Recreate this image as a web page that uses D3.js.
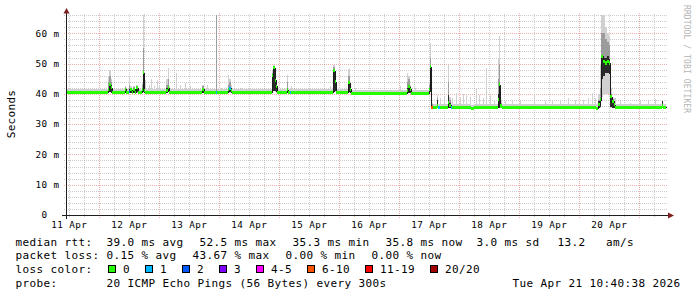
<!DOCTYPE html>
<html><head><meta charset="utf-8">
<script src="https://cdn.jsdelivr.net/npm/d3@7"></script>
<style>
html,body{margin:0;padding:0;background:#fff;}
svg{display:block;}
text{font-family:"DejaVu Sans Mono",monospace;fill:#000;}
</style></head><body>
<svg id="c" width="697" height="297"></svg>
<script>
// ---------------- data ----------------
// time = hours since the start of the 10-day window (ends Tue Apr 21 10:40:38 2026)
// columns: hour, median (ms), lost pings (of 20), smoke low, dark low, dark high, mid high, smoke high
const samples = [
[0.0,40.5,0,40.0,40.2,40.8,41.0,41.5],
[16.8,41.5,0,40.2,40.5,42.0,44.0,46.0],
[17.2,43.0,0,40.5,40.5,43.5,46.0,48.0],
[17.8,42.0,0,40.3,40.4,43.0,44.0,45.0],
[18.2,40.5,0,40.0,40.2,40.8,41.0,41.5],
[23.4,41.5,0,40.2,40.4,42.0,42.2,42.5],
[24.0,40.5,0,40.0,40.2,40.8,41.0,41.5],
[25.0,40.8,2,40.2,40.3,41.5,43.0,46.0],
[25.6,41.3,0,40.2,40.4,41.7,42.0,42.5],
[26.2,40.5,0,40.0,40.2,40.8,41.0,41.5],
[26.8,41.5,0,40.2,40.4,42.0,42.2,42.5],
[27.4,40.5,0,40.0,40.2,40.8,41.0,41.5],
[28.0,42.0,0,40.3,40.5,42.3,42.6,43.0],
[28.6,40.5,0,40.0,40.2,40.8,41.0,41.5],
[30.2,41.5,0,40.2,40.5,42.0,43.0,44.0],
[30.6,47.0,0,40.5,40.5,47.3,55.0,66.0],
[31.2,41.0,0,40.3,40.4,41.5,43.0,45.0],
[31.6,40.5,0,40.0,40.2,40.8,41.0,44.5],
[32.0,40.5,0,40.0,40.2,40.8,41.0,41.5],
[33.0,40.5,0,40.0,40.2,40.8,41.0,43.0],
[33.4,40.5,0,40.0,40.2,40.8,41.0,41.5],
[34.0,40.5,0,40.0,40.2,40.8,41.0,44.8],
[34.4,40.5,0,40.0,40.2,40.8,41.0,41.5],
[35.2,40.5,0,40.0,40.2,40.8,41.0,42.5],
[35.6,40.5,0,40.0,40.2,40.8,41.0,41.5],
[36.2,40.5,0,40.0,40.2,40.8,41.0,44.6],
[36.6,40.5,0,40.0,40.2,40.8,41.0,41.5],
[37.2,40.5,0,40.0,40.2,40.8,41.0,43.0],
[37.6,40.5,0,40.0,40.2,40.8,41.0,41.5],
[40.0,41.0,0,40.2,40.4,42.0,43.0,45.0],
[40.6,42.0,0,40.5,40.5,42.3,45.0,48.5],
[41.2,40.5,0,40.0,40.2,40.8,41.0,42.5],
[41.6,40.5,0,40.0,40.2,40.8,41.0,41.5],
[43.8,40.5,0,40.0,40.2,40.8,41.0,47.0],
[44.2,40.5,0,40.0,40.2,40.8,41.0,41.5],
[45.6,40.5,0,40.0,40.2,40.8,41.0,43.0],
[46.0,40.5,0,40.0,40.2,40.8,41.0,41.5],
[47.6,40.5,0,40.0,40.2,40.8,41.0,43.5],
[48.0,40.5,0,40.0,40.2,40.8,41.0,41.5],
[49.6,40.5,0,40.0,40.2,40.8,41.0,42.5],
[50.0,40.5,0,40.0,40.2,40.8,41.0,41.5],
[52.0,40.5,0,40.0,40.2,40.8,41.0,42.0],
[52.4,40.5,0,40.0,40.2,40.8,41.0,41.5],
[54.4,41.5,0,40.2,40.4,41.8,42.5,43.0],
[55.0,40.5,0,40.0,40.2,40.8,41.0,41.5],
[56.4,40.5,0,40.0,40.2,40.8,41.0,42.8],
[56.8,40.5,0,40.0,40.2,40.8,41.0,41.5],
[60.0,40.5,1,40.0,40.2,40.8,66.0,66.0],
[60.4,40.5,0,40.0,40.2,40.8,41.0,41.5],
[62.0,40.5,0,40.0,40.2,40.8,41.0,42.0],
[62.4,40.5,0,40.0,40.2,40.8,41.0,41.5],
[64.6,41.3,0,40.2,40.4,41.7,43.0,46.3],
[65.2,41.8,1,40.3,40.5,42.4,44.0,45.0],
[65.8,41.0,0,40.2,40.3,41.5,42.0,43.0],
[66.4,40.5,0,40.0,40.2,40.8,41.0,42.0],
[66.8,40.5,0,40.0,40.2,40.8,41.0,41.5],
[70.0,40.5,0,40.0,40.2,40.8,41.0,42.0],
[70.4,40.5,0,40.0,40.2,40.8,41.0,41.5],
[82.4,46.0,0,40.5,40.5,46.0,47.0,47.5],
[82.8,48.7,0,40.8,41.0,49.0,49.3,49.6],
[83.4,44.5,0,40.5,41.0,45.0,46.0,46.5],
[83.8,42.5,0,40.3,40.5,43.0,43.5,44.0],
[84.2,40.5,0,40.0,40.2,40.8,41.0,41.5],
[88.2,41.3,0,40.2,40.4,41.8,44.0,46.3],
[88.8,40.5,0,40.0,40.2,40.8,41.0,41.5],
[89.4,40.5,1,40.0,40.2,40.8,41.0,41.5],
[90.0,40.5,0,40.0,40.2,40.8,41.0,42.5],
[90.4,40.5,0,40.0,40.2,40.8,41.0,41.5],
[105.6,40.5,0,40.0,40.2,40.8,41.0,42.5],
[106.0,40.5,0,40.0,40.2,40.8,41.0,41.5],
[106.8,47.6,0,40.5,40.6,48.0,49.0,49.6],
[107.4,44.0,0,40.5,40.8,44.5,45.5,46.0],
[107.8,40.5,0,40.0,40.2,40.8,41.0,42.0],
[108.2,40.5,0,40.0,40.2,40.8,41.0,41.5],
[112.8,43.6,0,40.3,40.5,44.0,46.0,48.2],
[113.4,41.5,0,40.2,40.4,42.0,42.5,43.0],
[113.8,40.2,0,39.7,39.9,40.5,40.7,41.2],
[115.6,40.2,0,39.7,39.9,40.5,40.7,42.0],
[116.0,40.2,0,39.7,39.9,40.5,40.7,41.2],
[133.6,40.2,0,39.7,39.9,40.5,40.7,42.5],
[134.0,40.2,0,39.7,39.9,40.5,40.7,41.2],
[136.2,41.2,0,40.0,40.2,42.0,44.0,47.0],
[136.8,42.4,0,40.2,40.4,43.0,45.0,46.0],
[137.4,41.5,0,40.0,40.2,41.8,42.5,43.0],
[138.0,40.2,0,39.7,39.9,40.5,40.7,42.0],
[138.4,40.2,0,39.7,39.9,40.5,40.7,41.2],
[139.6,40.2,0,39.7,39.9,40.5,40.7,41.8],
[140.0,40.2,0,39.7,39.9,40.5,40.7,41.2],
[145.0,41.5,0,40.0,40.3,42.0,43.0,44.0],
[145.4,49.0,0,40.5,40.5,49.3,52.0,56.8],
[145.8,35.6,9,35.2,35.3,36.0,36.5,37.0],
[146.8,35.6,0,35.2,35.3,35.9,36.1,36.5],
[148.2,36.0,0,35.3,35.4,38.0,38.5,39.5],
[148.8,35.6,1,35.2,35.3,35.9,36.1,36.5],
[149.4,35.6,0,35.2,35.3,35.9,36.1,38.5],
[149.8,35.6,0,35.2,35.3,35.9,36.1,36.5],
[151.2,35.6,0,35.2,35.3,35.9,36.1,39.0],
[151.6,35.6,0,35.2,35.3,35.9,36.1,36.5],
[152.6,37.0,0,35.3,35.4,39.7,44.0,49.6],
[153.2,36.2,0,35.2,35.3,37.0,38.0,39.0],
[153.8,35.6,1,35.2,35.3,35.9,36.1,36.5],
[154.4,35.6,0,35.2,35.3,35.9,36.1,38.5],
[154.8,35.6,0,35.2,35.3,35.9,36.1,36.5],
[156.0,35.6,0,35.2,35.3,35.9,36.1,40.3],
[156.4,35.6,0,35.2,35.3,35.9,36.1,36.5],
[157.6,35.6,0,35.2,35.3,35.9,36.1,39.0],
[158.0,35.6,0,35.2,35.3,35.9,36.1,36.5],
[158.8,35.6,0,35.2,35.3,35.9,36.1,40.0],
[159.2,35.6,0,35.2,35.3,35.9,36.1,36.5],
[160.0,35.6,0,35.2,35.3,35.9,36.1,40.0],
[160.4,35.6,0,35.2,35.3,35.9,36.1,36.5],
[161.6,35.6,0,35.2,35.3,35.9,36.1,39.0],
[162.0,35.3,0,34.9,35.0,35.6,35.8,36.2],
[163.2,35.6,0,35.2,35.3,35.9,36.1,36.5],
[164.0,35.6,0,35.2,35.3,35.9,36.1,42.0],
[164.4,35.6,0,35.2,35.3,35.9,36.1,36.5],
[165.2,35.6,0,35.2,35.3,35.9,36.1,39.5],
[165.6,35.6,0,35.2,35.3,35.9,36.1,36.5],
[166.8,35.6,0,35.2,35.3,35.9,36.1,38.5],
[167.2,35.6,0,35.2,35.3,35.9,36.1,36.5],
[168.0,35.6,0,35.2,35.3,35.9,36.1,48.5],
[168.4,35.6,0,35.2,35.3,35.9,36.1,36.5],
[169.6,35.6,0,35.2,35.3,35.9,36.1,40.0],
[170.0,35.6,0,35.2,35.3,35.9,36.1,36.5],
[171.2,35.6,0,35.2,35.3,35.9,36.1,38.0],
[171.6,35.6,0,35.2,35.3,35.9,36.1,36.5],
[172.6,38.0,0,35.3,35.4,40.0,45.0,52.0],
[173.0,43.0,0,35.4,35.5,43.3,50.0,59.0],
[173.6,36.0,0,35.2,35.3,36.5,37.0,38.0],
[174.2,35.6,0,35.2,35.3,35.9,36.1,36.5],
[175.6,35.6,0,35.2,35.3,35.9,36.1,37.5],
[176.0,35.6,0,35.2,35.3,35.9,36.1,36.5],
[178.4,35.6,0,35.2,35.3,35.9,36.1,38.0],
[178.8,35.6,0,35.2,35.3,35.9,36.1,36.5],
[181.6,35.6,0,35.2,35.3,35.9,36.1,37.5],
[182.0,35.6,0,35.2,35.3,35.9,36.1,36.5],
[187.2,35.6,0,35.2,35.3,35.9,36.1,40.0],
[187.6,35.6,0,35.2,35.3,35.9,36.1,36.5],
[191.6,35.6,0,35.2,35.3,35.9,36.1,37.5],
[192.0,35.6,0,35.2,35.3,35.9,36.1,36.5],
[194.4,35.6,0,35.2,35.3,35.9,36.1,38.0],
[194.8,35.6,0,35.2,35.3,35.9,36.1,36.5],
[197.6,35.6,0,35.2,35.3,35.9,36.1,37.5],
[198.0,35.6,0,35.2,35.3,35.9,36.1,36.5],
[200.8,35.6,0,35.2,35.3,35.9,36.1,38.5],
[201.2,35.6,0,35.2,35.3,35.9,36.1,36.5],
[203.6,35.6,0,35.2,35.3,35.9,36.1,38.0],
[204.0,35.6,0,35.2,35.3,35.9,36.1,36.5],
[206.8,35.6,0,35.2,35.3,35.9,36.1,38.0],
[207.2,35.6,0,35.2,35.3,35.9,36.1,36.5],
[208.8,35.6,0,35.2,35.3,35.9,36.1,38.5],
[209.2,35.6,0,35.2,35.3,35.9,36.1,36.5],
[210.4,35.6,0,35.2,35.3,35.9,36.1,40.3],
[210.8,35.6,0,35.2,35.3,35.9,36.1,36.5],
[211.6,35.6,0,35.2,35.3,35.9,36.1,38.5],
[212.0,35.3,0,34.9,35.0,35.6,35.8,36.5],
[213.0,36.5,0,35.2,35.3,37.5,38.0,40.0],
[213.6,38.0,0,35.5,35.6,38.5,42.0,50.0],
[214.0,52.4,0,39.0,45.0,53.0,60.0,66.0],
[214.6,50.7,0,39.5,46.0,52.0,60.0,66.0],
[215.4,50.2,0,40.0,47.0,52.0,58.0,62.0],
[216.2,50.7,0,40.0,47.0,52.5,57.0,60.0],
[217.0,50.2,0,40.0,46.5,51.5,56.0,59.0],
[217.6,39.0,0,35.5,35.6,39.5,40.0,42.0],
[218.2,37.5,0,35.3,35.4,38.0,38.3,38.5],
[219.0,36.4,0,35.2,35.3,37.0,37.5,38.6],
[219.6,35.6,0,35.2,35.3,35.9,36.1,38.6],
[220.0,35.6,0,35.2,35.3,35.9,36.1,36.5],
[221.6,35.6,0,35.2,35.3,35.9,36.1,37.5],
[222.0,35.6,0,35.2,35.3,35.9,36.1,36.5],
[225.6,35.6,0,35.2,35.3,35.9,36.1,37.0],
[226.0,35.6,0,35.2,35.3,35.9,36.1,36.5],
[229.6,35.6,0,35.2,35.3,35.9,36.1,37.5],
[230.0,35.6,0,35.2,35.3,35.9,36.1,36.5],
[232.8,35.6,0,35.2,35.3,35.9,36.1,37.5],
[233.2,35.6,0,35.2,35.3,35.9,36.1,36.5],
[235.6,35.6,0,35.2,35.3,35.9,36.1,38.2],
[236.0,35.6,0,35.2,35.3,35.9,36.1,36.5],
[238.2,36.0,0,35.2,35.3,37.5,37.6,37.8],
[238.6,35.6,0,35.2,35.3,35.9,36.1,36.5]
];
const dataEndHour = 240.0;
const windowHours = 240;

const yMajorTicks = [0, 10, 20, 30, 40, 50, 60];
const yTickLabels = [" 0", "10 m", "20 m", "30 m", "40 m", "50 m", "60 m"];
const yMax = 66.05;

const lossLabels = ["0", "1", "2", "3", "4-5", "6-10", "11-19", "20/20"];
const lossUpper  = [0, 1, 2, 3, 5, 10, 19, 20];
const lossColors = ["#26ff00", "#00b8ff", "#0059ff", "#7e00ff", "#ff00ff", "#ff5500", "#ff0000", "#a10000"];

const legendRtt  = ["median rtt:", "39.0 ms avg", "52.5 ms max", "35.3 ms min", "35.8 ms now", "3.0 ms sd", "13.2", "am/s"];
const legendLoss = ["packet loss:", "0.15 % avg", "43.67 % max", "0.00 % min", "0.00 % now"];
const legendProbe = ["probe:", "20 ICMP Echo Pings (56 Bytes) every 300s"];
const stampText = "Tue Apr 21 10:40:38 2026";
const yAxisTitle = "Seconds";
const watermark = "RRDTOOL / TOBI OETIKER";

// ---------------- drawing ----------------
const svg = d3.select("#c");
const endTime = new Date(Date.UTC(2026, 3, 21, 10, 40, 38));
const startTime = new Date(+endTime - windowHours * 3600e3);
const T = h => new Date(+startTime + h * 3600e3);
const X0 = 66, X1 = 666, Y0 = 215, Y1 = 15;
const x = d3.scaleUtc().domain([startTime, endTime]).range([X0, X1]);
const y = d3.scaleLinear().domain([0, yMax]).range([Y0, Y1]);
const px = h => Math.round(x(T(h)));
const py = v => Math.round(y(v));

const rows = samples.map((s, i) => ({
  h: s[0], h2: i < samples.length - 1 ? samples[i + 1][0] : dataEndHour,
  med: s[1], loss: s[2], lo: s[3], dlo: s[4], dhi: s[5], mid: s[6], hi: s[7]
}));

// grid
const gridMinor = "rgba(143,143,143,0.45)", gridMajor = "rgba(222,79,79,0.45)";
const grid = svg.append("g").attr("shape-rendering", "crispEdges");
const minorY = d3.range(0, yMax, 2).filter(v => v % 10 !== 0);
grid.selectAll(".hmin").data(minorY).enter().append("line")
  .attr("x1", X0 - 2).attr("x2", X1 + 2)
  .attr("y1", d => py(d) + 0.5).attr("y2", d => py(d) + 0.5)
  .attr("stroke", gridMinor).attr("stroke-dasharray", "1,1");
const minorX = d3.utcHour.every(6).range(startTime, endTime).filter(d => d.getUTCHours() !== 0);
grid.selectAll(".vmin").data(minorX).enter().append("line")
  .attr("x1", d => Math.round(x(d)) + 0.5).attr("x2", d => Math.round(x(d)) + 0.5)
  .attr("y1", Y0 + 2).attr("y2", Y1 - 2)
  .attr("stroke", gridMinor).attr("stroke-dasharray", "1,1");
grid.selectAll(".hmaj").data(yMajorTicks.filter(v => v > 0)).enter().append("line")
  .attr("x1", X0 - 2).attr("x2", X1 + 2)
  .attr("y1", d => py(d) + 0.5).attr("y2", d => py(d) + 0.5)
  .attr("stroke", gridMajor).attr("stroke-dasharray", "1,1");
const majorX = d3.utcDay.range(startTime, endTime);
grid.selectAll(".vmaj").data(majorX).enter().append("line")
  .attr("x1", d => Math.round(x(d)) + 0.5).attr("x2", d => Math.round(x(d)) + 0.5)
  .attr("y1", Y0 + 3).attr("y2", Y1 - 2)
  .attr("stroke", gridMajor).attr("stroke-dasharray", "1,1");

// smoke
const plot = svg.append("g").attr("shape-rendering", "crispEdges");
function band(lowKey, highKey, fill) {
  plot.append("g").selectAll("rect").data(rows).enter().append("rect")
    .attr("x", d => px(d.h))
    .attr("width", d => Math.max(1, px(d.h2) - px(d.h)))
    .attr("y", d => py(d[highKey]))
    .attr("height", d => Math.max(0, py(d[lowKey]) - py(d[highKey])))
    .attr("fill", fill);
}
band("lo", "hi", "#d0d0d0");
band("dlo", "mid", "#9c9c9c");
band("dlo", "dhi", "#2a2a2a");

// median line (dark) with step joins
const medPts = rows.map(d => [d.h, d.med]).concat([[dataEndHour, rows[rows.length - 1].med]]);
plot.append("path")
  .attr("d", d3.line().x(d => px(d[0]) + 0.5).y(d => py(d[1]) + 0.5).curve(d3.curveStepAfter)(medPts))
  .attr("fill", "none").attr("stroke", "#1c1c1c").attr("stroke-width", 1);

// loss-coloured median band
const lossIndex = n => lossUpper.findIndex(u => n <= u);
plot.append("g").selectAll("rect").data(rows).enter().append("rect")
  .attr("x", d => px(d.h))
  .attr("width", d => Math.max(1, px(d.h2) - px(d.h)))
  .attr("y", d => py(d.med + 0.5))
  .attr("height", d => py(d.med - 0.5) - py(d.med + 0.5))
  .attr("fill", d => lossColors[lossIndex(d.loss)]);

// axes
const ax = svg.append("g").attr("shape-rendering", "crispEdges");
ax.append("line").attr("x1", X0 - 4).attr("x2", X1 + 4).attr("y1", Y0 + 0.5).attr("y2", Y0 + 0.5).attr("stroke", "#1f1f1f");
ax.append("line").attr("x1", X0 + 0.5).attr("x2", X0 + 0.5).attr("y1", Y0 + 4).attr("y2", Y1 - 4).attr("stroke", "#1f1f1f");
svg.append("path").attr("d", `M${X1 + 2},${Y0 - 2.5}L${X1 + 8},${Y0 + 0.5}L${X1 + 2},${Y0 + 3.5}Z`).attr("fill", "#801f1f");
svg.append("path").attr("d", `M${X0 - 2.5},${Y1 - 1.5}L${X0 + 0.5},${Y1 - 7}L${X0 + 3.5},${Y1 - 1.5}Z`).attr("fill", "#801f1f");

// tick labels
svg.append("g").selectAll("text").data(yMajorTicks).enter().append("text")
  .attr("xml:space", "preserve")
  .attr("x", 35.5).attr("y", d => y(d) + 3.3)
  .style("font-size", "9.3px").style("letter-spacing", "0.4px")
  .text((d, i) => yTickLabels[i]);
const labelTimes = d3.utcDay.range(d3.utcDay.floor(startTime), endTime)
  .map(d => d3.utcHour.offset(d, 12)).filter(d => d >= startTime && d <= endTime);
svg.append("g").selectAll("text").data(labelTimes).enter().append("text")
  .attr("x", d => x(d)).attr("y", 228).attr("text-anchor", "middle")
  .style("font-size", "9.3px").style("letter-spacing", "0.4px")
  .text(d3.utcFormat("%d %b"));

// titles
svg.append("text").attr("transform", "translate(15,114) rotate(-90)").attr("text-anchor", "middle")
  .style("font-size", "11px").style("letter-spacing", "0.3px").text(yAxisTitle);
svg.append("text").attr("transform", "translate(684,5) rotate(90)")
  .style("font-size", "8px").style("letter-spacing", "0.1px").style("fill", "#b4b4b4").text(watermark);

// legend
const legendFont = t => t.style("font-size", "11px").style("letter-spacing", "0.38px").attr("xml:space", "preserve");
const rttX = [15.5, 106.5, 199.5, 292.5, 385.5, 476.5, 557.5, 606];
const lossX = [15.5, 106.5, 192.5, 285.5, 371.5];
const lg = svg.append("g");
lg.selectAll(".r").data(legendRtt).enter().append("text").attr("x", (d, i) => rttX[i]).attr("y", 245.5).call(legendFont).text(d => d);
lg.selectAll(".l").data(legendLoss).enter().append("text").attr("x", (d, i) => lossX[i]).attr("y", 259.3).call(legendFont).text(d => d);
lg.append("text").attr("x", 15.5).attr("y", 273).call(legendFont).text("loss color:");
let bx = 108.5;
lossLabels.forEach((lab, i) => {
  lg.append("rect").attr("x", bx).attr("y", 265.5).attr("width", 7).attr("height", 7)
    .attr("fill", lossColors[i]).attr("stroke", "#000").attr("stroke-width", 1).attr("shape-rendering", "crispEdges");
  const t = lg.append("text").attr("x", bx + 14.5).attr("y", 273).call(legendFont).text(lab);
  bx = bx + 14.5 + t.node().getComputedTextLength() + 15.5;
});
lg.selectAll(".p").data(legendProbe).enter().append("text").attr("x", (d, i) => [15.5, 106.5][i]).attr("y", 286.8).call(legendFont).text(d => d);
lg.append("text").attr("x", 680.5).attr("y", 286.8).attr("text-anchor", "end").call(legendFont).text(stampText);
</script>
</body></html>
